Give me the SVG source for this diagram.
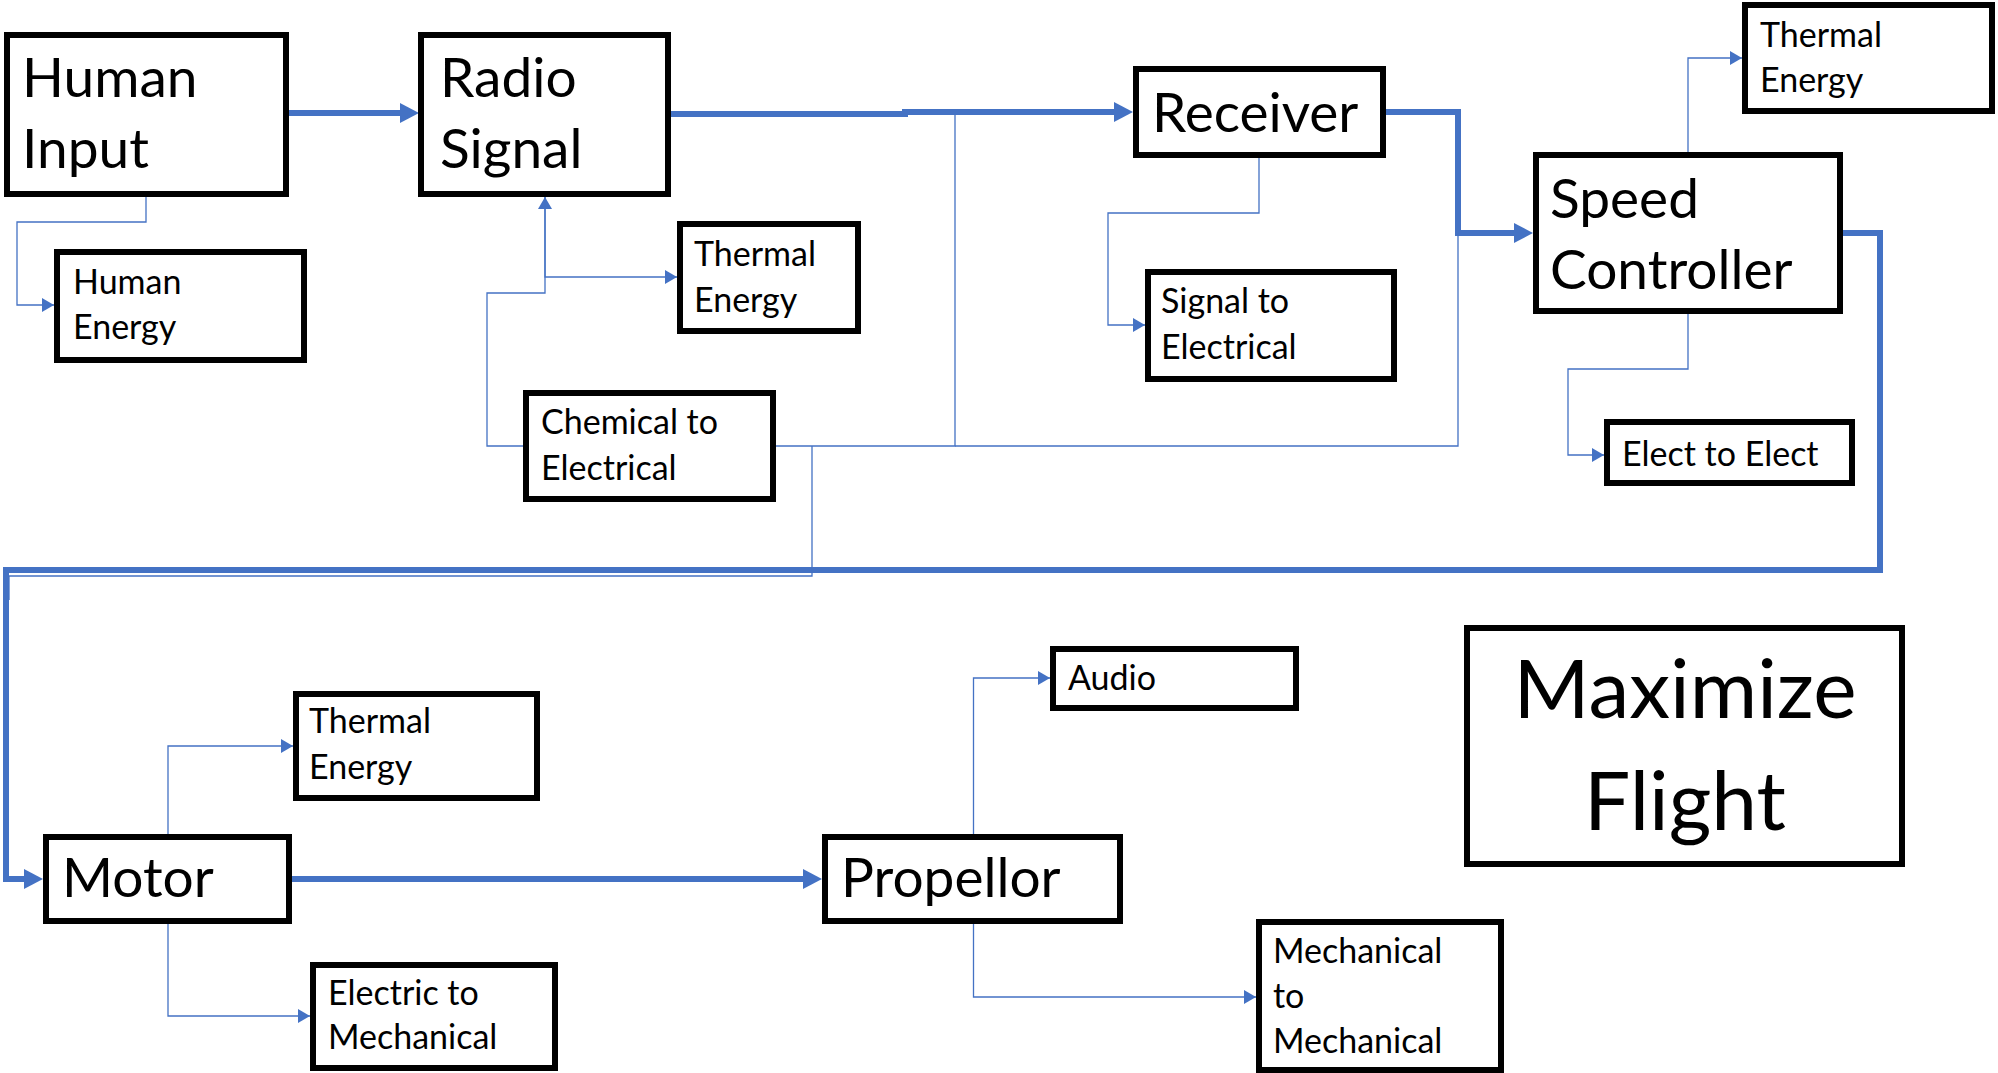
<svg xmlns="http://www.w3.org/2000/svg" width="1998" height="1073" viewBox="0 0 1998 1073">
<style>
.box{fill:#fff;stroke:#000;stroke-width:6}
.t{font-family:Lato,"Liberation Sans",sans-serif;fill:#000}
.lg{font-size:55px}
.sm{font-size:34px}
.xl{font-size:82px}
.thick{fill:none;stroke:#4472C4;stroke-width:6}
.thin{fill:none;stroke:#4472C4;stroke-width:1.3}
</style>
<defs>
<marker id="ab" markerUnits="userSpaceOnUse" markerWidth="20" markerHeight="20" viewBox="0 0 20 20" refX="0" refY="10" orient="auto"><path d="M0,0 L19,10 L0,20 z" fill="#4472C4"/></marker>
<marker id="as" markerUnits="userSpaceOnUse" markerWidth="13" markerHeight="14" viewBox="0 0 13 14" refX="12" refY="7" orient="auto"><path d="M0,0 L12,7 L0,14 z" fill="#4472C4"/></marker>
</defs>
<rect width="1998" height="1073" fill="#fff"/>
<g id="connectors">
<path class="thick" d="M289,113 H400" marker-end="url(#ab)"/>
<path class="thick" d="M671,114 H905 V112 H1114" marker-end="url(#ab)"/>
<path class="thick" d="M1386,112 H1458 V233 H1514" marker-end="url(#ab)"/>
<path class="thick" d="M1843,233 H1880 V570 H6 V879 H24" marker-end="url(#ab)"/>
<path class="thick" d="M292,879 H803" marker-end="url(#ab)"/>
<path class="thin" d="M146,197 V222 H17 V305 H54" marker-end="url(#as)"/>
<path class="thin" d="M523,446 H487 V293 H545 V197" marker-end="url(#as)"/>
<path class="thin" d="M545,197 V277 H677" marker-end="url(#as)"/>
<path class="thin" d="M776,446 H955 V114"/>
<path class="thin" d="M955,446 H1458 V233"/>
<path class="thin" d="M812,446 V576 H9 V600"/>
<path class="thin" d="M1259,158 V213 H1108 V325 H1145" marker-end="url(#as)"/>
<path class="thin" d="M1688,152 V58 H1742" marker-end="url(#as)"/>
<path class="thin" d="M1688,314 V369 H1568 V455 H1604" marker-end="url(#as)"/>
<path class="thin" d="M168,834 V746 H293" marker-end="url(#as)"/>
<path class="thin" d="M168,924 V1016 H310" marker-end="url(#as)"/>
<path class="thin" d="M973.5,834 V678 H1050" marker-end="url(#as)"/>
<path class="thin" d="M973.5,924 V997 H1256" marker-end="url(#as)"/>
</g>
<g id="human-input"><rect class="box" x="7" y="35" width="279" height="159"/><text class="t lg" x="22" y="97">Human</text><text class="t lg" x="22" y="168">Input</text></g>
<g id="radio-signal"><rect class="box" x="421" y="35" width="247" height="159"/><text class="t lg" x="440" y="97">Radio</text><text class="t lg" x="440" y="168">Signal</text></g>
<g id="receiver"><rect class="box" x="1136" y="69" width="247" height="86"/><text class="t lg" x="1152" y="132">Receiver</text></g>
<g id="speed-controller"><rect class="box" x="1536" y="155" width="304" height="156"/><text class="t lg" x="1550" y="218">Speed</text><text class="t lg" x="1550" y="289">Controller</text></g>
<g id="thermal-energy-1"><rect class="box" x="1745" y="5" width="247" height="106"/><text class="t sm" x="1760" y="47">Thermal</text><text class="t sm" x="1760" y="92">Energy</text></g>
<g id="thermal-energy-2"><rect class="box" x="680" y="224" width="178" height="107"/><text class="t sm" x="694" y="266">Thermal</text><text class="t sm" x="694" y="312">Energy</text></g>
<g id="human-energy"><rect class="box" x="57" y="252" width="247" height="108"/><text class="t sm" x="73" y="294">Human</text><text class="t sm" x="73" y="339">Energy</text></g>
<g id="signal-to-electrical"><rect class="box" x="1148" y="272" width="246" height="107"/><text class="t sm" x="1161" y="313">Signal to</text><text class="t sm" x="1161" y="359">Electrical</text></g>
<g id="chemical-to-electrical"><rect class="box" x="526" y="393" width="247" height="106"/><text class="t sm" x="541" y="434">Chemical to</text><text class="t sm" x="541" y="480">Electrical</text></g>
<g id="elect-to-elect"><rect class="box" x="1607" y="422" width="245" height="61"/><text class="t sm" x="1622" y="466">Elect to Elect</text></g>
<g id="thermal-energy-3"><rect class="box" x="296" y="694" width="241" height="104"/><text class="t sm" x="309" y="733">Thermal</text><text class="t sm" x="309" y="779">Energy</text></g>
<g id="motor"><rect class="box" x="46" y="837" width="243" height="84"/><text class="t lg" x="62" y="897">Motor</text></g>
<g id="electric-to-mechanical"><rect class="box" x="313" y="965" width="242" height="103"/><text class="t sm" x="328" y="1005">Electric to</text><text class="t sm" x="328" y="1049">Mechanical</text></g>
<g id="audio"><rect class="box" x="1053" y="649" width="243" height="59"/><text class="t sm" x="1068" y="690">Audio</text></g>
<g id="propellor"><rect class="box" x="825" y="837" width="295" height="84"/><text class="t lg" x="841" y="897">Propellor</text></g>
<g id="mechanical-to-mechanical"><rect class="box" x="1259" y="922" width="242" height="148"/><text class="t sm" x="1273" y="963">Mechanical</text><text class="t sm" x="1273" y="1008">to</text><text class="t sm" x="1273" y="1053">Mechanical</text></g>
<g id="maximize-flight"><rect class="box" x="1467" y="628" width="435" height="236"/><text class="t xl" x="1685" y="718" text-anchor="middle">Maximize</text><text class="t xl" x="1685" y="830" text-anchor="middle">Flight</text></g>
</svg>
